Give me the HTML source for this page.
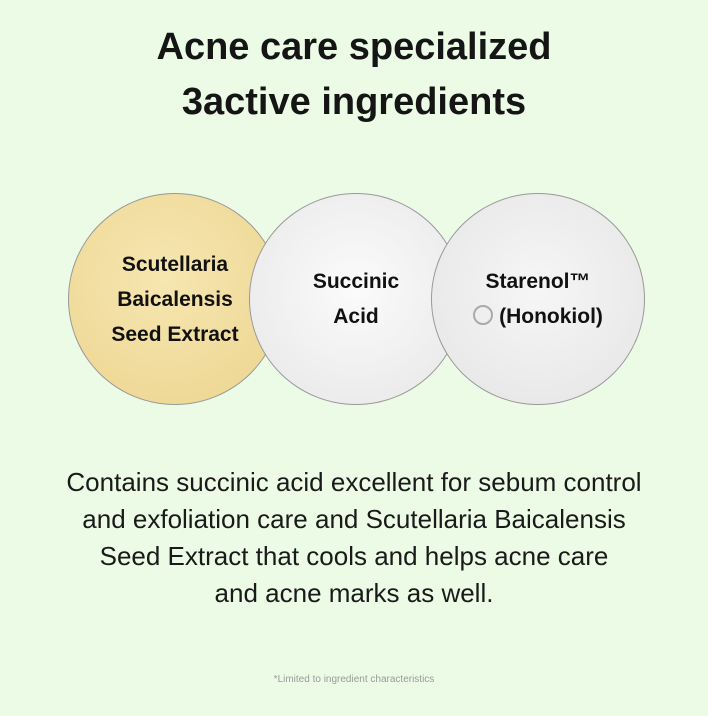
<!DOCTYPE html>
<html><head><meta charset="utf-8"><style>
html,body{margin:0;padding:0}
body{width:708px;height:716px;background:#ebfbe6;font-family:"Liberation Sans",sans-serif;position:relative;overflow:hidden;color:#111}
.t{position:absolute;left:0;width:708px;text-align:center}
h1{position:absolute;top:20px;left:0;width:708px;margin:0;text-align:center;font-size:38px;line-height:55px;font-weight:bold;color:#151515}
.c{position:absolute;top:193px;width:214px;height:212px;border-radius:50%;box-sizing:border-box;border:1px solid #999;display:flex;align-items:center;justify-content:center;text-align:center;font-size:21px;font-weight:bold;line-height:35px}
p{position:absolute;top:464px;left:-20px;width:748px;margin:0;text-align:center;font-size:26px;line-height:37px;color:#1a1a1a}
</style></head><body>
<h1>Acne care specialized<br>3active ingredients</h1>
<div class="c" style="left:68px;background:radial-gradient(circle at 45% 40%,#f6e6b0,#ecd48e);">Scutellaria<br>Baicalensis<br>Seed Extract</div>
<div class="c" style="left:249px;background:radial-gradient(circle at 50% 45%,#fbfbfb,#e6e6e6);">Succinic<br>Acid</div>
<div class="c" style="left:431px;background:radial-gradient(circle at 50% 45%,#f6f6f6,#e4e4e4);"><span>Starenol™<br><span style="display:inline-block;width:16px;height:16px;border-radius:50%;border:2px solid #aaa;vertical-align:-2px;margin-right:6px"></span>(Honokiol)</span></div>
<p>Contains succinic acid excellent for sebum control<br>and exfoliation care and Scutellaria Baicalensis<br>Seed Extract that cools and helps acne care<br>and acne marks as well.</p>
<div class="t" style="top:674px;font-size:10px;color:#9a9a9a">*Limited to ingredient characteristics</div>
</body></html>
